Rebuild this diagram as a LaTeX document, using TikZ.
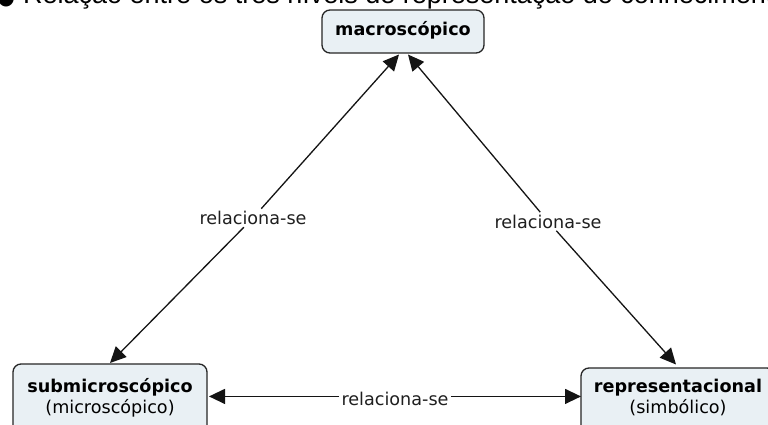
\documentclass[tikz,border=0pt]{standalone}
\usepackage{fontspec}
\setmainfont{DejaVu Sans}
\newfontfamily\titlefont{Liberation Sans}
\newfontfamily\symbfont{DejaVu Sans}
\usetikzlibrary{arrows.meta}
\definecolor{boxfill}{HTML}{E9F0F4}
\definecolor{boxline}{HTML}{262626}
\begin{document}
\begin{tikzpicture}[x=1pt,y=-1pt,
  concept/.style={draw=boxline, line width=1.3pt, fill=boxfill, rounded corners=8pt, inner sep=0pt, outer sep=0pt},
  boldtxt/.style={font=\fontsize{17.6}{21}\selectfont\bfseries, inner sep=0pt, anchor=base, text=black},
  regtxt/.style={font=\fontsize{17.6}{21}\selectfont, inner sep=0pt, anchor=base, text=black},
  linklbl/.style={font=\fontsize{17.6}{21}\selectfont, inner sep=2.5pt, outer sep=0pt, fill=white, anchor=base, text=black!88},
  conn/.style={line width=1.3pt, draw=black!92},
  tip/.style={-{Triangle[length=16pt,width=15pt]}},
  titletxt/.style={font=\titlefont\fontsize{27}{30}\selectfont, inner sep=0pt, text=black}
]
\useasboundingbox (0,0) rectangle (768,425);
\clip (0,0) rectangle (768,425);
\fill[white] (0,0) rectangle (768,425);

% title (clipped at the top of the picture)
\node[titletxt, anchor=base west] (title) at (23,4) {Relação entre os três níveis de representação do conhecimento};
\node[font=\symbfont\fontsize{20}{24}\selectfont, inner sep=0pt, anchor=center] (bullet) at (6,-1) {●};

% concepts
\node[concept, minimum width=162pt, minimum height=43pt] (macro) at (403,31.5) {};
\node[boldtxt] (macroT) at (403,36) {macroscópico};

\node[concept, minimum width=194pt, minimum height=70pt, anchor=north] (sub) at (110,364) {};
\node[boldtxt] (subA) at (110,392) {submicroscópico};
\node[regtxt] (subB) at (110,413) {(microscópico)};

\node[concept, minimum width=194pt, minimum height=70pt, anchor=north] (rep) at (678,368) {};
\node[boldtxt] (repA) at (678,392) {representacional};
\node[regtxt] (repB) at (678,413) {(simbólico)};

% linking phrases
\node[linklbl] (lblL) at (253,224.5) {relaciona-se};
\node[linklbl] (lblR) at (548,228) {relaciona-se};
\node[linklbl] (lblB) at (395,405) {relaciona-se};

% connectors
\coordinate (mL) at ([xshift=-4pt,yshift=-1.5pt]macro.south);
\coordinate (mR) at ([xshift=5pt,yshift=-1.5pt]macro.south);
\coordinate (sT) at ([yshift=1pt]sub.north);
\coordinate (rT) at ([xshift=-2pt,yshift=3.5pt]rep.north);
\coordinate (bl) at ([yshift=2pt]lblB.west);
\coordinate (br) at ([yshift=2pt]lblB.east);

\draw[conn,tip] (lblL) -- (mL);
\draw[conn,tip] (lblL) -- (sT);
\draw[conn,tip] (lblR) -- (mR);
\draw[conn,tip] (lblR) -- (rT);
\draw[conn,tip] (bl) -- ([xshift=2pt]bl -| sub.east);
\draw[conn,tip] (br) -- (br -| rep.west);
\end{tikzpicture}
\end{document}
